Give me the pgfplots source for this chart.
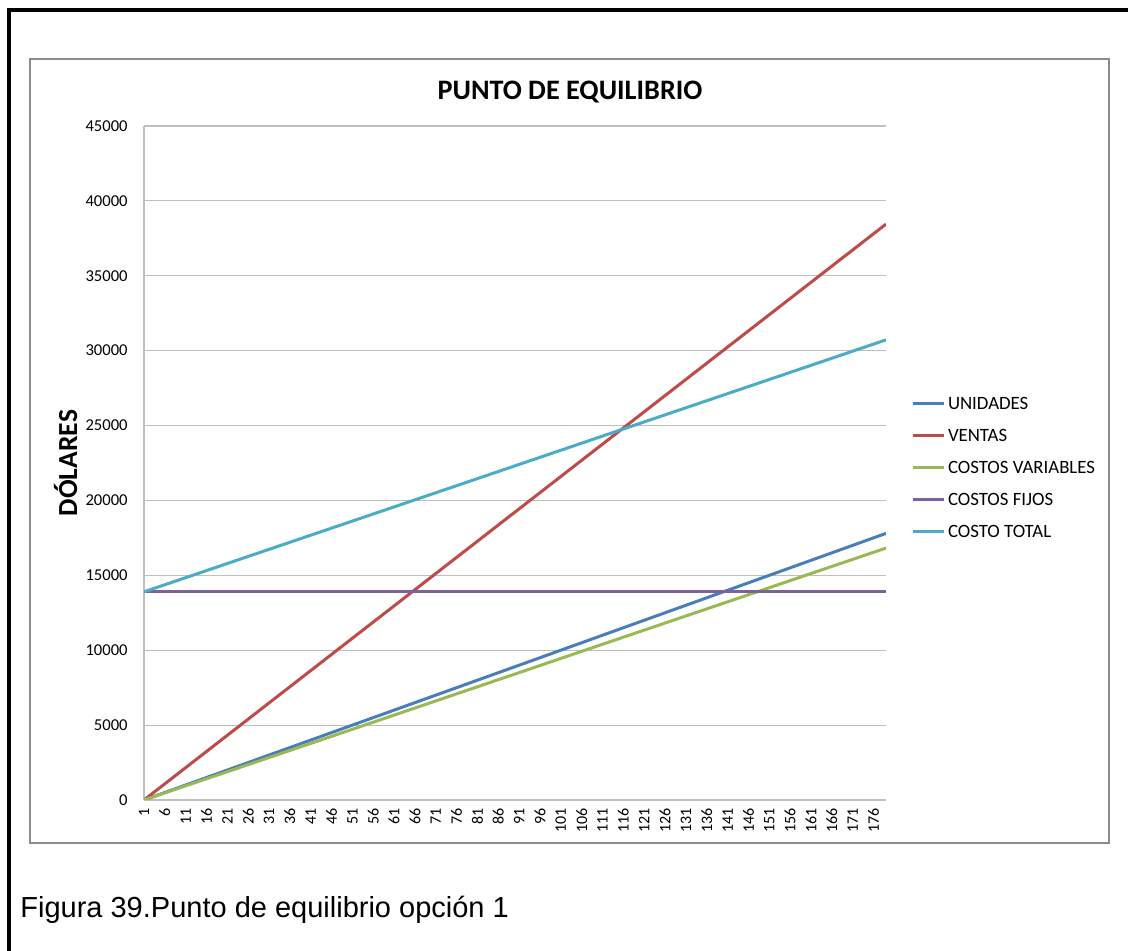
\documentclass[border=0pt]{standalone}
\usepackage{fontspec}
\setmainfont{Carlito}
\newfontfamily\arial{Liberation Sans}
\usepackage{pgfplots}
\pgfplotsset{compat=1.18}
\usepackage{pgfplotstable}
\definecolor{cUni}{HTML}{4A7EBB}
\definecolor{cVen}{HTML}{BE4B48}
\definecolor{cVar}{HTML}{98B954}
\definecolor{cFij}{HTML}{7D60A0}
\definecolor{cTot}{HTML}{4BACC6}
\definecolor{gridc}{HTML}{BFBFBF}
\definecolor{boxc}{HTML}{8C8C8C}
\pgfplotstableread{
x unidades ventas variables fijos total
1 0 0 0 13900 13900
66 6500 14040 6140 13900 20040
116 11500 24840 10870 13900 24770
141 14000 30240 13230 13900 27130
179 17800 38450 16820 13900 30720
}\datatab
\begin{document}
\begin{tikzpicture}
\path[use as bounding box] (0pt,0pt) rectangle (564pt,475.5pt);
\draw[line width=2pt,black] (4.35pt,0pt) -- (4.35pt,470.35pt) -- (564pt,470.35pt);
\draw[line width=0.8pt,boxc] (15pt,54pt) rectangle (554.5pt,446pt);
\begin{axis}[
  at={(72pt,75.5pt)}, anchor=south west,
  width=371pt, height=337pt, scale only axis,
  xmin=1, xmax=179, ymin=0, ymax=45000,
  xtick={1,6,...,176},
  ytick={0,5000,...,45000},
  scaled y ticks=false,
  /pgf/number format/1000 sep={},
  /pgf/number format/assume math mode=true,
  ymajorgrids, grid style={gridc, line width=0.6pt},
  axis x line*=bottom, axis y line*=left,
  axis line style={gridc, line width=0.6pt, -},
  major tick length=0pt,
  xticklabel style={rotate=90, anchor=east, inner sep=0pt, font=\fontsize{8}{9}\selectfont},
  xticklabel shift=4pt,
  yticklabel style={anchor=east, inner sep=0pt, font=\fontsize{8.3}{10}\selectfont},
  yticklabel shift=8pt,
  legend style={at={(1,0.494)}, anchor=west, xshift=12.5pt, draw=none, fill=none,
    inner sep=0pt, outer sep=0pt, row sep=9.5pt, column sep=1.5pt,
    font=\fontsize{9.4}{11}\selectfont,
    nodes={inner sep=0pt, text height=6.5pt, text depth=0pt}},
  legend cell align=left,
  legend image code/.code={\path[draw=none,fill=none] (0pt,-3.25pt) rectangle (15.5pt,3.25pt);\draw[#1] (0pt,0pt) -- (15.5pt,0pt);},
  every axis plot/.append style={line width=1.5pt, mark=none},
]
\addplot[cUni] table[x=x,y=unidades]{\datatab};
\addplot[cVen] table[x=x,y=ventas]{\datatab};
\addplot[cVar] table[x=x,y=variables]{\datatab};
\addplot[cFij] table[x=x,y=fijos]{\datatab};
\addplot[cTot] table[x=x,y=total]{\datatab};
\legend{UNIDADES,VENTAS,COSTOS VARIABLES,COSTOS FIJOS,COSTO TOTAL}
\end{axis}
\node[anchor=base, inner sep=0pt, font=\fontsize{14.1}{16}\selectfont\bfseries] at (285pt,425.5pt) {PUNTO DE EQUILIBRIO};
\node[anchor=base, rotate=90, inner sep=0pt, font=\fontsize{13.8}{16}\selectfont\bfseries] at (38.5pt,244pt) {DÓLARES};
\node[anchor=base west, inner sep=0pt, font=\arial\fontsize{14.5}{17}\selectfont] at (10pt,16.5pt) {Figura 39.Punto de equilibrio opción 1};
\end{tikzpicture}
\end{document}
